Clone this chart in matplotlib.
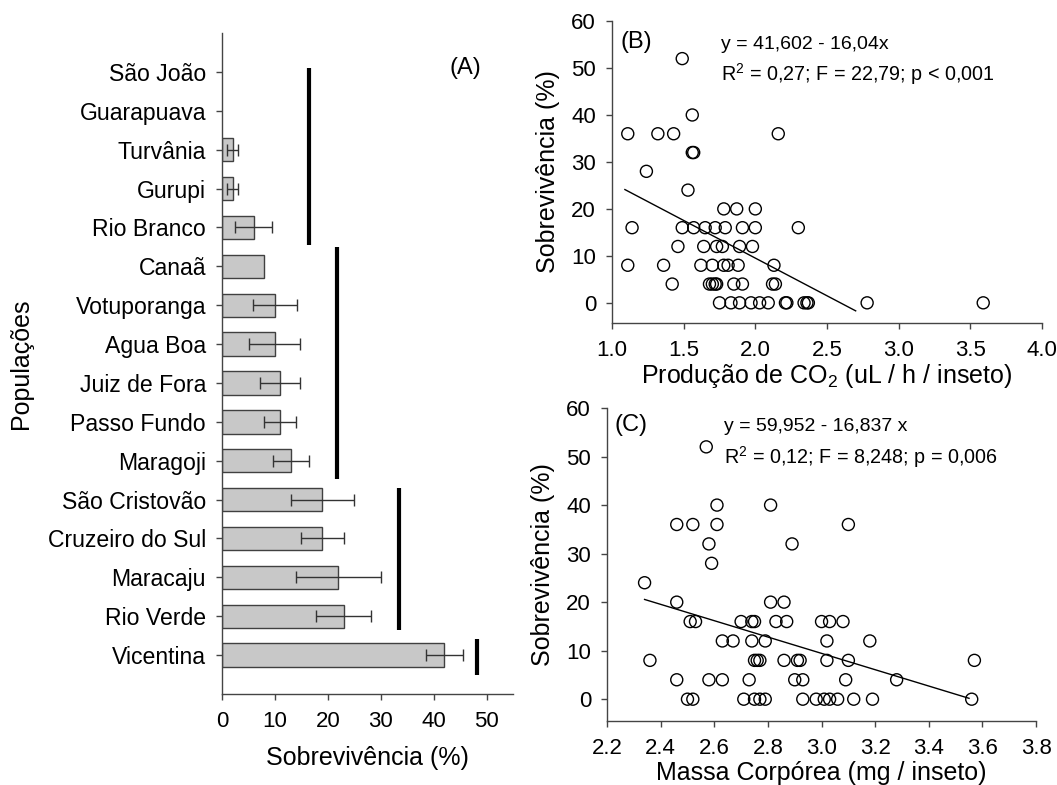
import matplotlib
matplotlib.use('Agg')
import matplotlib.pyplot as plt

plt.rcParams['font.family'] = ['Liberation Sans', 'DejaVu Sans']
plt.rcParams['mathtext.fontset'] = 'custom'
plt.rcParams['mathtext.rm'] = 'Liberation Sans'
plt.rcParams['mathtext.it'] = 'Liberation Sans:italic'

# (A) survival per population
populations = ['São João', 'Guarapuava', 'Turvânia', 'Gurupi', 'Rio Branco', 'Canaã',
               'Votuporanga', 'Agua Boa', 'Juiz de Fora', 'Passo Fundo', 'Maragoji',
               'São Cristovão', 'Cruzeiro do Sul', 'Maracaju', 'Rio Verde', 'Vicentina']
survival = [0, 0, 2, 2, 6, 8, 10, 10, 11, 11, 13, 19, 19, 22, 23, 42]
survival_err = [0, 0, 1.1, 1.1, 3.5, 0, 4.1, 4.8, 3.8, 3.0, 3.4, 6.0, 4.0, 8.1, 5.2, 3.5]
# group bars: x position, first / last row covered
group_x = [16.4, 21.7, 33.4, 48.2]
group_top = [-0.1, 4.49, 10.7, 14.59]
group_bottom = [4.44, 10.46, 14.35, 15.52]

# (B) survival vs CO2 production
co2 = [1.49, 1.56,
       1.11, 1.32, 1.43, 2.16,
       1.56, 1.57,
       1.24,
       1.53,
       1.78, 1.87, 2.00,
       1.14, 1.49, 1.57, 1.65, 1.72, 1.79, 1.91, 2.00, 2.30,
       1.46, 1.64, 1.73, 1.77, 1.89, 1.98,
       1.11, 1.36, 1.62, 1.70, 1.78, 1.81, 1.88, 2.13,
       1.42, 1.68, 1.70, 1.72, 1.73, 1.85, 1.91, 2.12, 2.14,
       1.75, 1.83, 1.89, 1.97, 2.03, 2.09, 2.21, 2.22, 2.34, 2.36, 2.37, 2.78, 3.59]
surv_co2 = [52, 40,
            36, 36, 36, 36,
            32, 32,
            28,
            24,
            20, 20, 20,
            16, 16, 16, 16, 16, 16, 16, 16, 16,
            12, 12, 12, 12, 12, 12,
            8, 8, 8, 8, 8, 8, 8, 8,
            4, 4, 4, 4, 4, 4, 4, 4, 4,
            0, 0, 0, 0, 0, 0, 0, 0, 0, 0, 0, 0, 0]
co2_fit = (41.602, -16.04)
co2_fit_range = [1.09, 2.70]

# (C) survival vs body mass
mass = [2.57,
        2.61, 2.81,
        2.46, 2.52, 2.61, 3.10,
        2.58, 2.89,
        2.59,
        2.34,
        2.46, 2.81, 2.86,
        2.51, 2.53, 2.70, 2.74, 2.75, 2.83, 2.87, 3.00, 3.03, 3.08,
        2.63, 2.67, 2.74, 2.79, 3.02, 3.18,
        2.36, 2.75, 2.76, 2.77, 2.86, 2.91, 2.92, 3.02, 3.10, 3.57,
        2.46, 2.58, 2.63, 2.73, 2.90, 2.93, 3.09, 3.28,
        2.50, 2.52, 2.71, 2.75, 2.77, 2.79, 2.93, 2.98, 3.01, 3.03, 3.06, 3.12, 3.19, 3.56]
surv_mass = [52,
             40, 40,
             36, 36, 36, 36,
             32, 32,
             28,
             24,
             20, 20, 20,
             16, 16, 16, 16, 16, 16, 16, 16, 16, 16,
             12, 12, 12, 12, 12, 12,
             8, 8, 8, 8, 8, 8, 8, 8, 8, 8,
             4, 4, 4, 4, 4, 4, 4, 4,
             0, 0, 0, 0, 0, 0, 0, 0, 0, 0, 0, 0, 0, 0]
mass_fit = (59.952, -16.837)
mass_fit_range = [2.34, 3.55]

spine_col = '#444444'


def style_axes(ax):
    for s in ['top', 'right']:
        ax.spines[s].set_visible(False)
    for s in ['left', 'bottom']:
        ax.spines[s].set_color(spine_col)
        ax.spines[s].set_linewidth(1.0)
    ax.tick_params(direction='out', length=4, width=1, color=spine_col,
                   labelsize=16)
    ax.tick_params(axis='x', pad=8)
    ax.tick_params(axis='y', pad=7.5)


fig = plt.figure(figsize=(10.57, 7.85), dpi=100)

# ---- panel A ----
axA = fig.add_axes([0.210, 0.1159, 0.2753, 0.842])
ypos = list(range(len(populations)))
# empty bars are not drawn at all
bar_y = [y for y, v in zip(ypos, survival) if v > 0]
bar_v = [v for v in survival if v > 0]
axA.barh(bar_y, bar_v, height=0.6, color='#c8c8c8', edgecolor='#404040', linewidth=1.0)
err_y = [y for y, e in zip(ypos, survival_err) if e > 0]
err_v = [v for v, e in zip(survival, survival_err) if e > 0]
err_e = [e for e in survival_err if e > 0]
axA.errorbar(err_v, err_y, xerr=err_e, fmt='none', ecolor='#333333',
             elinewidth=1.0, capsize=4, capthick=1.0)
for gx, gt, gb in zip(group_x, group_top, group_bottom):
    axA.plot([gx, gx], [gt, gb], color='black', linewidth=3, solid_capstyle='butt')
axA.set_xlim(0, 55)
axA.set_ylim(16.0, -1.0)
axA.set_yticks(ypos)
axA.set_yticklabels(populations)
axA.set_xticks([0, 10, 20, 30, 40, 50])
style_axes(axA)
axA.tick_params(axis='y', labelsize=16.6, pad=7.5)
axA.set_xlabel('Sobrevivência (%)', fontsize=18, labelpad=10)
axA.set_ylabel('Populações', fontsize=18)
axA.yaxis.set_label_coords(-0.65, 0.5)
axA.text(46, -0.1, '(A)', fontsize=17, ha='center', va='center')

# ---- panel B ----
axB = fig.add_axes([0.579, 0.5885, 0.4068, 0.3847])
axB.scatter(co2, surv_co2, s=75, facecolors='none', edgecolors='black', linewidths=1.0, zorder=3)
axB.plot(co2_fit_range, [co2_fit[0] + co2_fit[1] * x for x in co2_fit_range],
         color='black', linewidth=1.0)
axB.set_xlim(1.0, 4.0)
axB.set_ylim(-4.3, 60)
axB.set_xticks([1.0, 1.5, 2.0, 2.5, 3.0, 3.5, 4.0])
axB.set_xticklabels(['1.0', '1.5', '2.0', '2.5', '3.0', '3.5', '4.0'])
axB.set_yticks([0, 10, 20, 30, 40, 50, 60])
style_axes(axB)
axB.set_xlabel('Produção de CO$_\\mathregular{2}$ (uL / h / inseto)', fontsize=18, labelpad=1)
axB.set_ylabel('Sobrevivência (%)', fontsize=18)
axB.yaxis.set_label_coords(-0.12, 0.5)
axB.text(1.17, 55.5, '(B)', fontsize=17, ha='center', va='center')
axB.text(1.76, 54.9, 'y = 41,602 - 16,04x', fontsize=14, ha='left', va='center')
axB.text(1.76, 48.7, 'R$^\\mathregular{2}$ = 0,27; F = 22,79; p < 0,001', fontsize=14.2,
         ha='left', va='center')

# ---- panel C ----
axC = fig.add_axes([0.5743, 0.0815, 0.4059, 0.3987])
axC.scatter(mass, surv_mass, s=75, facecolors='none', edgecolors='black', linewidths=1.0, zorder=3)
axC.plot(mass_fit_range, [mass_fit[0] + mass_fit[1] * x for x in mass_fit_range],
         color='black', linewidth=1.0)
axC.set_xlim(2.2, 3.8)
axC.set_ylim(-4.5, 60)
axC.set_xticks([2.2, 2.4, 2.6, 2.8, 3.0, 3.2, 3.4, 3.6, 3.8])
axC.set_xticklabels(['2.2', '2.4', '2.6', '2.8', '3.0', '3.2', '3.4', '3.6', '3.8'])
axC.set_yticks([0, 10, 20, 30, 40, 50, 60])
style_axes(axC)
axC.set_xlabel('Massa Corpórea (mg / inseto)', fontsize=18, labelpad=2)
axC.set_ylabel('Sobrevivência (%)', fontsize=18)
axC.yaxis.set_label_coords(-0.122, 0.5)
axC.text(2.29, 56.5, '(C)', fontsize=17, ha='center', va='center')
axC.text(2.637, 56.1, 'y = 59,952 - 16,837 x', fontsize=14, ha='left', va='center')
axC.text(2.637, 50.0, 'R$^\\mathregular{2}$ = 0,12; F = 8,248; p = 0,006', fontsize=14.2,
         ha='left', va='center')

fig.savefig('out.png', dpi=100)
